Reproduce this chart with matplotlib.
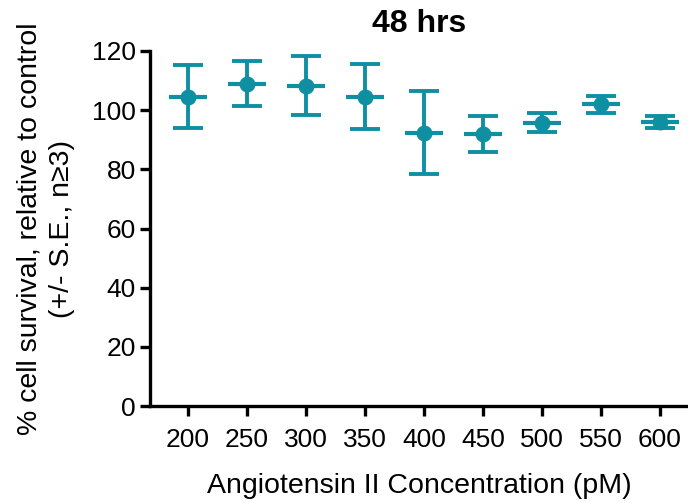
import matplotlib
matplotlib.use("Agg")
import matplotlib.pyplot as plt
import numpy as np

plt.rcParams['font.family'] = ['Liberation Sans', 'DejaVu Sans']

concentrations = ["200", "250", "300", "350", "400", "450", "500", "550", "600"]
survival = [104.6, 109.0, 108.2, 104.6, 92.4, 91.9, 95.8, 102.0, 96.0]
sem = [10.5, 7.7, 10.0, 11.0, 14.0, 6.0, 3.2, 2.8, 2.0]

color = "#0E8FA2"

fig = plt.figure(figsize=(6.88, 5.03), dpi=100)
ax = fig.add_axes([150/688, 1 - 406/503, (688-150)/688, (406-51)/503])

x = np.arange(len(concentrations))
ax.errorbar(x, survival, yerr=sem, fmt='none', ecolor=color, elinewidth=2.8,
            capsize=11, capthick=2.8, zorder=2)
ax.plot(x, survival, linestyle='none', marker='_', markersize=28,
        markeredgewidth=3.0, color=color, zorder=3)
ax.plot(x, survival, linestyle='none', marker='o', markersize=10.5,
        color=color, zorder=4)

ax.set_xlim(-0.644, 8.475)
ax.set_ylim(0, 120)
ax.set_yticks([0, 20, 40, 60, 80, 100, 120])
ax.set_xticks(x)
ax.set_xticklabels(concentrations)

for s in ['top', 'right']:
    ax.spines[s].set_visible(False)
for s in ['left', 'bottom']:
    ax.spines[s].set_linewidth(2.4)
ax.tick_params(axis='both', width=2.4, length=7, labelsize=19, colors='black')
ax.tick_params(axis='x', pad=9)
ax.tick_params(axis='y', pad=3)

ax.set_xlabel("Angiotensin II Concentration (pM)", fontsize=20.5, labelpad=15)
ax.set_ylabel("% cell survival, relative to control\n(+/- S.E., n\u22653)",
              fontsize=20.5, linespacing=1.35, labelpad=12)
ax.set_title("48 hrs", fontsize=23, fontweight='bold', pad=14)

fig.savefig("out.png", dpi=100)
